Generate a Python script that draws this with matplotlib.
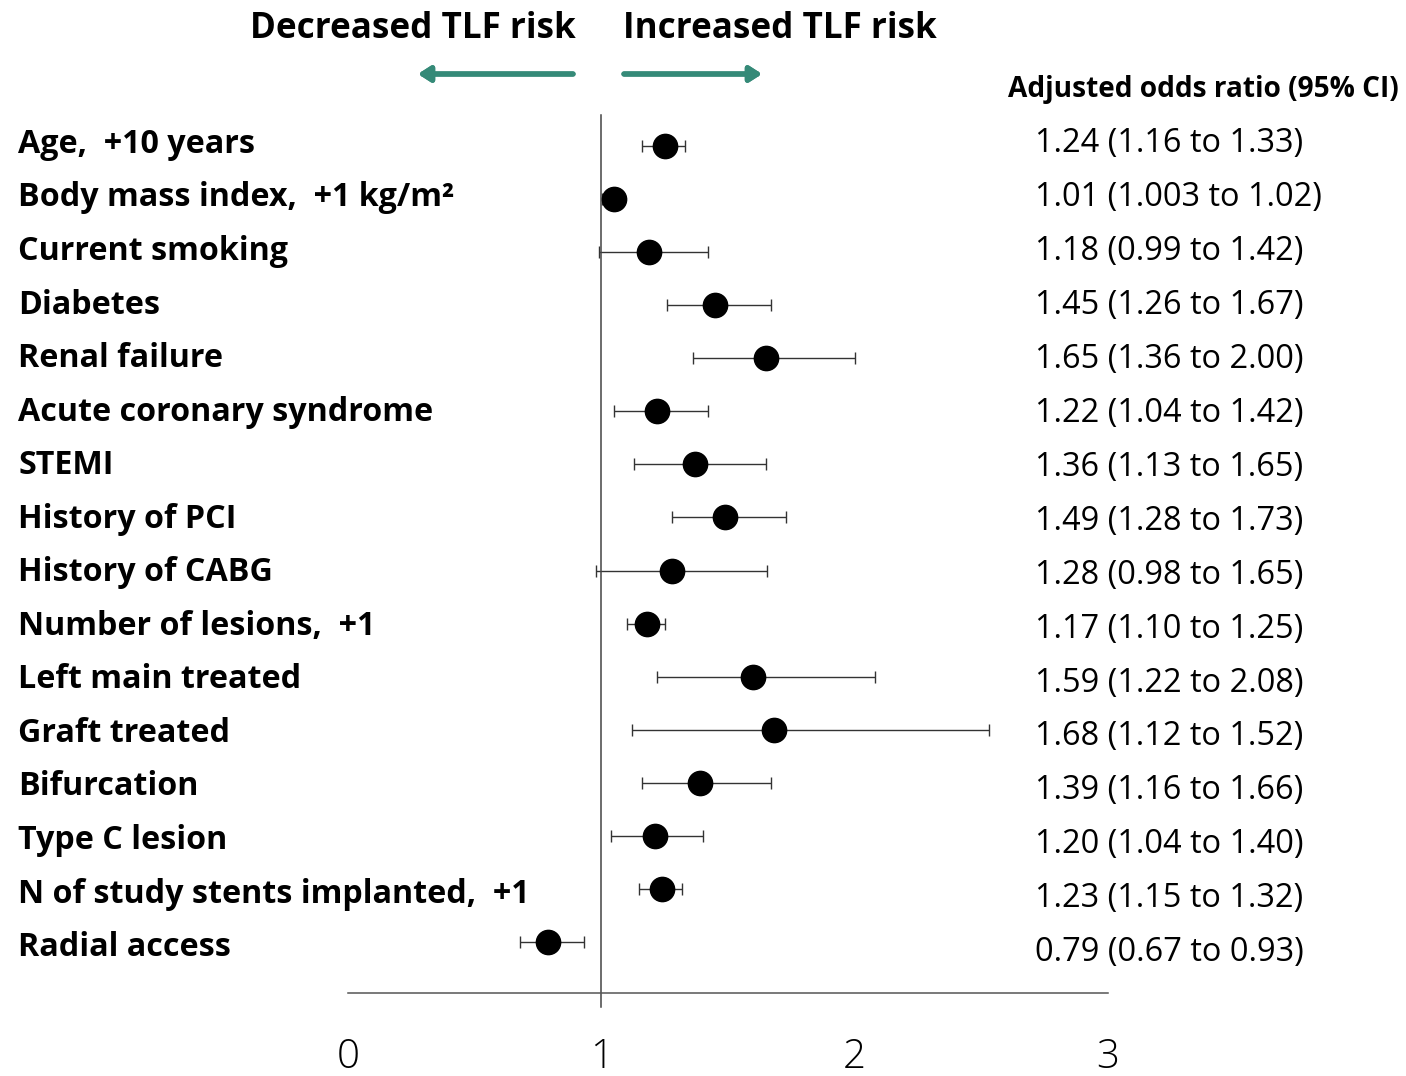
import matplotlib.pyplot as plt
from matplotlib.transforms import blended_transform_factory

# Data (marker positions and CI ends as drawn)
labels = [
    "Age,  +10 years", "Body mass index,  +1 kg/m\u00b2", "Current smoking",
    "Diabetes", "Renal failure", "Acute coronary syndrome", "STEMI",
    "History of PCI", "History of CABG", "Number of lesions,  +1",
    "Left main treated", "Graft treated", "Bifurcation", "Type C lesion",
    "N of study stents implanted,  +1", "Radial access",
]
odds = [1.25, 1.05, 1.19, 1.45, 1.65, 1.22, 1.37, 1.49, 1.28, 1.18,
        1.60, 1.68, 1.39, 1.21, 1.24, 0.79]
ci_low = [1.16, 1.003, 0.99, 1.26, 1.36, 1.05, 1.13, 1.28, 0.98, 1.10,
          1.22, 1.12, 1.16, 1.04, 1.15, 0.68]
ci_high = [1.33, 1.02, 1.42, 1.67, 2.00, 1.42, 1.65, 1.73, 1.655, 1.25,
           2.08, 2.53, 1.67, 1.40, 1.32, 0.93]
ci_text = [
    "1.24 (1.16 to 1.33)", "1.01 (1.003 to 1.02)", "1.18 (0.99 to 1.42)",
    "1.45 (1.26 to 1.67)", "1.65 (1.36 to 2.00)", "1.22 (1.04 to 1.42)",
    "1.36 (1.13 to 1.65)", "1.49 (1.28 to 1.73)", "1.28 (0.98 to 1.65)",
    "1.17 (1.10 to 1.25)", "1.59 (1.22 to 2.08)", "1.68 (1.12 to 1.52)",
    "1.39 (1.16 to 1.66)", "1.20 (1.04 to 1.40)", "1.23 (1.15 to 1.32)",
    "0.79 (0.67 to 0.93)",
]
xticks = [0, 1, 2, 3]

plt.rcParams['font.family'] = ['Open Sans', 'DejaVu Sans']

W, H = 1406, 1076
fig = plt.figure(figsize=(W / 100, H / 100), dpi=100)
ax = fig.add_axes([348 / W, 1 - 993 / H, (1108 - 348) / W, (993 - 115) / H])

rows = list(range(len(labels)))
# CI whiskers with end caps, then the point estimates on top
ax.hlines(rows, ci_low, ci_high, color='#333333', lw=1.0, zorder=2)
ax.plot(ci_low, rows, ls='none', marker='|', ms=9, mew=1.0, color='#333333', zorder=2)
ax.plot(ci_high, rows, ls='none', marker='|', ms=9, mew=1.0, color='#333333', zorder=2)
ax.plot(odds, rows, ls='none', marker='o', ms=17.5, color='black', zorder=3)

step = 53.07
ax.set_xlim(0, 3)
ax.set_ylim((993 - 146) / step, (115 - 146) / step)

# reference line at OR = 1, slightly past the axis as a tick
ax.plot([1, 1], [(115 - 146) / step, (1007 - 146) / step], color='#444444',
        lw=1.1, clip_on=False, zorder=2)

for s in ['top', 'right', 'left']:
    ax.spines[s].set_visible(False)
ax.spines['bottom'].set_color('#555555')
ax.spines['bottom'].set_linewidth(1.1)
ax.set_yticks([])
ax.set_xticks(xticks)
ax.set_xticklabels([str(t) for t in xticks], fontsize=29, fontweight='light')
ax.tick_params(axis='x', length=0, pad=32)

# text columns are spaced a touch wider than the marker rows
tr = blended_transform_factory(fig.transFigure, ax.transData)
for i, (lab, txt) in enumerate(zip(labels, ci_text)):
    ax.text(18 / W, i - 0.03 + 0.009 * i, lab, transform=tr, ha='left', va='center',
            fontsize=23.2, fontweight='bold')
    ax.text(1035 / W, i - 0.04 + 0.016 * i, txt, transform=tr, ha='left', va='center',
            fontsize=23.4)

fig.text(1008 / W, 1 - 90 / H, "Adjusted odds ratio (95% CI)", ha='left',
         va='center', fontsize=20.2, fontweight='bold')

fig.text(576 / W, 1 - 29 / H, "Decreased TLF risk", ha='right', va='center',
         fontsize=25.2, fontweight='bold')
fig.text(623 / W, 1 - 29 / H, "Increased TLF risk", ha='left', va='center',
         fontsize=25.2, fontweight='bold')

teal = '#358a78'
arrow = dict(arrowstyle='-|>,head_length=0.7,head_width=0.45', color=teal,
             lw=3.8, shrinkA=0, shrinkB=0)
fig.add_artist(plt.annotate('', xy=(418 / W, 1 - 74 / H), xytext=(573 / W, 1 - 74 / H),
                            xycoords='figure fraction', arrowprops=arrow))
fig.add_artist(plt.annotate('', xy=(762 / W, 1 - 74 / H), xytext=(624 / W, 1 - 74 / H),
                            xycoords='figure fraction', arrowprops=arrow))

fig.savefig('out.png', dpi=100)
